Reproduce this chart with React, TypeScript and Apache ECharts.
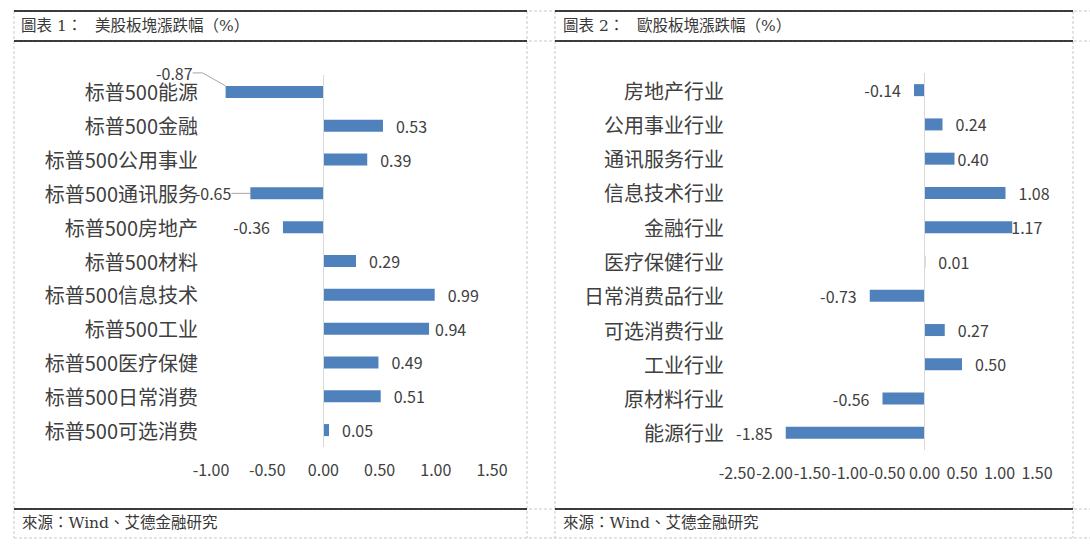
import React, { useEffect, useRef } from "react";
import * as echarts from "echarts";

// ---------- data ----------
const usCategories = [
  "标普500能源",
  "标普500金融",
  "标普500公用事业",
  "标普500通讯服务",
  "标普500房地产",
  "标普500材料",
  "标普500信息技术",
  "标普500工业",
  "标普500医疗保健",
  "标普500日常消费",
  "标普500可选消费",
];
const usValues = [-0.87, 0.53, 0.39, -0.65, -0.36, 0.29, 0.99, 0.94, 0.49, 0.51, 0.05];
const usTicks = [-1.0, -0.5, 0.0, 0.5, 1.0, 1.5];

const euCategories = [
  "房地产行业",
  "公用事业行业",
  "通讯服务行业",
  "信息技术行业",
  "金融行业",
  "医疗保健行业",
  "日常消费品行业",
  "可选消费行业",
  "工业行业",
  "原材料行业",
  "能源行业",
];
const euValues = [-0.14, 0.24, 0.4, 1.08, 1.17, 0.01, -0.73, 0.27, 0.5, -0.56, -1.85];
const euTicks = [-2.5, -2.0, -1.5, -1.0, -0.5, 0.0, 0.5, 1.0, 1.5];

const titleLeftPrefix = "圖表 1：";
const titleLeftText = "美股板塊漲跌幅（%）";
const titleRightPrefix = "圖表 2：";
const titleRightText = "歐股板塊漲跌幅（%）";
const sourceText = "來源：Wind、艾德金融研究";

// ---------- styles ----------
const BAR_COLOR = "#4F81BD";
const TEXT_COLOR = "#404040";
const FONT = '"Noto Sans CJK SC", "Noto Sans", sans-serif';
const TITLE_FONT = '"DejaVu Serif", "Noto Sans CJK TC", "Noto Sans CJK SC", serif';
const LABEL_DISTANCE = 13;

// per-label distance tweaks (style) and moved labels (style)
const usDistance: Record<number, number> = { 7: 6 };
const euDistance: Record<number, number> = { 2: 3, 4: -1 };
const usLabelShift: Record<number, [number, number]> = { 0: [-20, -19], 3: [-6, 0] };

function buildBarData(values: number[], distances: Record<number, number>, moved: Record<number, [number, number]>) {
  return values.map((v, i) => {
    const item: any = {
      value: v,
      label: {
        position: v < 0 ? "left" : "right",
        distance: distances[i] != null ? distances[i] : LABEL_DISTANCE,
      },
    };
    if (moved[i]) {
      item.labelLine = {
        show: true,
        length2: 10,
        lineStyle: { color: "#A6A6A6", width: 1 },
      };
    }
    return item;
  });
}

function valueAxis(gridIndex: number, ticks: number[]) {
  return {
    type: "value",
    gridIndex,
    min: ticks[0],
    max: ticks[ticks.length - 1],
    interval: ticks[1] - ticks[0],
    axisLine: { show: false },
    axisTick: { show: false },
    splitLine: { show: false },
    axisLabel: {
      color: TEXT_COLOR,
      fontSize: 16,
      fontFamily: FONT,
      margin: 14,
      showMinLabel: true,
      showMaxLabel: true,
      formatter: (v: number) => v.toFixed(2),
    },
  };
}

function categoryAxis(gridIndex: number, cats: string[]) {
  return {
    type: "category",
    gridIndex,
    data: cats,
    inverse: true,
    axisLine: { show: false },
    axisTick: { show: false },
    splitLine: { show: false },
    axisLabel: {
      color: TEXT_COLOR,
      fontSize: 20,
      fontFamily: FONT,
      margin: 13,
      interval: 0,
    },
  };
}

function barSeries(idx: number, values: number[], distances: Record<number, number>, moved: Record<number, [number, number]>) {
  return {
    type: "bar",
    xAxisIndex: idx,
    yAxisIndex: idx,
    barWidth: 12,
    itemStyle: { color: BAR_COLOR },
    label: {
      show: true,
      color: TEXT_COLOR,
      fontSize: 16,
      fontFamily: FONT,
      formatter: (p: any) => Number(p.value).toFixed(2),
    },
    labelLayout: (p: any) => {
      const s = moved[p.dataIndex];
      if (!s) return {};
      const r = p.labelRect;
      return {
        x: r.x + r.width + s[0],
        y: r.y + r.height / 2 + s[1],
        align: "right",
        verticalAlign: "middle",
      };
    },
    data: buildBarData(values, distances, moved),
    markLine: {
      silent: true,
      symbol: ["none", "none"],
      label: { show: false },
      lineStyle: { color: "#D9D9D9", type: "solid", width: 1 },
      emphasis: { disabled: true },
      data: [{ xAxis: 0 }],
    },
  };
}

function hLine(x1: number, x2: number, y: number, dashed: boolean) {
  return {
    type: "line",
    silent: true,
    shape: { x1, y1: y, x2, y2: y },
    style: dashed
      ? { stroke: "#C8C8C8", lineWidth: 1, lineDash: [3, 2] }
      : { stroke: "#000000", lineWidth: 1.6 },
  };
}
function vLine(x: number, y1: number, y2: number) {
  return {
    type: "line",
    silent: true,
    shape: { x1: x, y1, x2: x, y2 },
    style: { stroke: "#C8C8C8", lineWidth: 1, lineDash: [3, 2] },
  };
}
function text(str: string, x: number, y: number, size: number) {
  return {
    type: "text",
    silent: true,
    style: {
      text: str,
      x,
      y,
      fill: "#383838",
      fontSize: size,
      fontFamily: TITLE_FONT,
      align: "left",
      verticalAlign: "middle",
      textAlign: "left",
      textVerticalAlign: "middle",
    },
  };
}

export default function App() {
  const ref = useRef<HTMLDivElement>(null);

  useEffect(() => {
    if (!ref.current) return;
    const chart = echarts.init(ref.current, undefined, { renderer: "svg" });

    const graphics: any[] = [
      // grid-like dashed frame
      hLine(14, 1090, 11, true),
      hLine(14, 1090, 41, true),
      hLine(14, 1090, 509, true),
      hLine(14, 1090, 538, true),
      vLine(14, 11, 538),
      vLine(527, 11, 538),
      vLine(555, 11, 538),
      vLine(1073, 11, 538),
      // black rules
      hLine(14, 527, 11, false),
      hLine(14, 527, 41, false),
      hLine(14, 527, 509, false),
      hLine(555, 1073, 11, false),
      hLine(555, 1073, 41, false),
      hLine(555, 1073, 509, false),
      // titles and sources
      text(titleLeftPrefix, 21, 25.5, 15.5),
      text(titleLeftText, 95, 25.5, 15.5),
      text(titleRightPrefix, 563, 25.5, 15.5),
      text(titleRightText, 637, 25.5, 15.5),
      text(sourceText, 22, 522.5, 15.5),
      text(sourceText, 563, 522.5, 15.5),
    ];

    chart.setOption({
      animation: false,
      backgroundColor: "#ffffff",
      textStyle: { fontFamily: FONT },
      grid: [
        { left: 211, top: 75, width: 281, height: 372, outerBoundsMode: "none", containLabel: false },
        { left: 737, top: 73, width: 300, height: 377, outerBoundsMode: "none", containLabel: false },
      ],
      xAxis: [valueAxis(0, usTicks), valueAxis(1, euTicks)],
      yAxis: [categoryAxis(0, usCategories), categoryAxis(1, euCategories)],
      series: [
        barSeries(0, usValues, usDistance, usLabelShift),
        barSeries(1, euValues, euDistance, {}),
      ],
      graphic: graphics,
    });

    return () => {
      chart.dispose();
    };
  }, []);

  return (
    <div
      ref={ref}
      style={{ position: "fixed", left: 0, top: 0, width: 1090, height: 553, background: "#fff" }}
    />
  );
}
